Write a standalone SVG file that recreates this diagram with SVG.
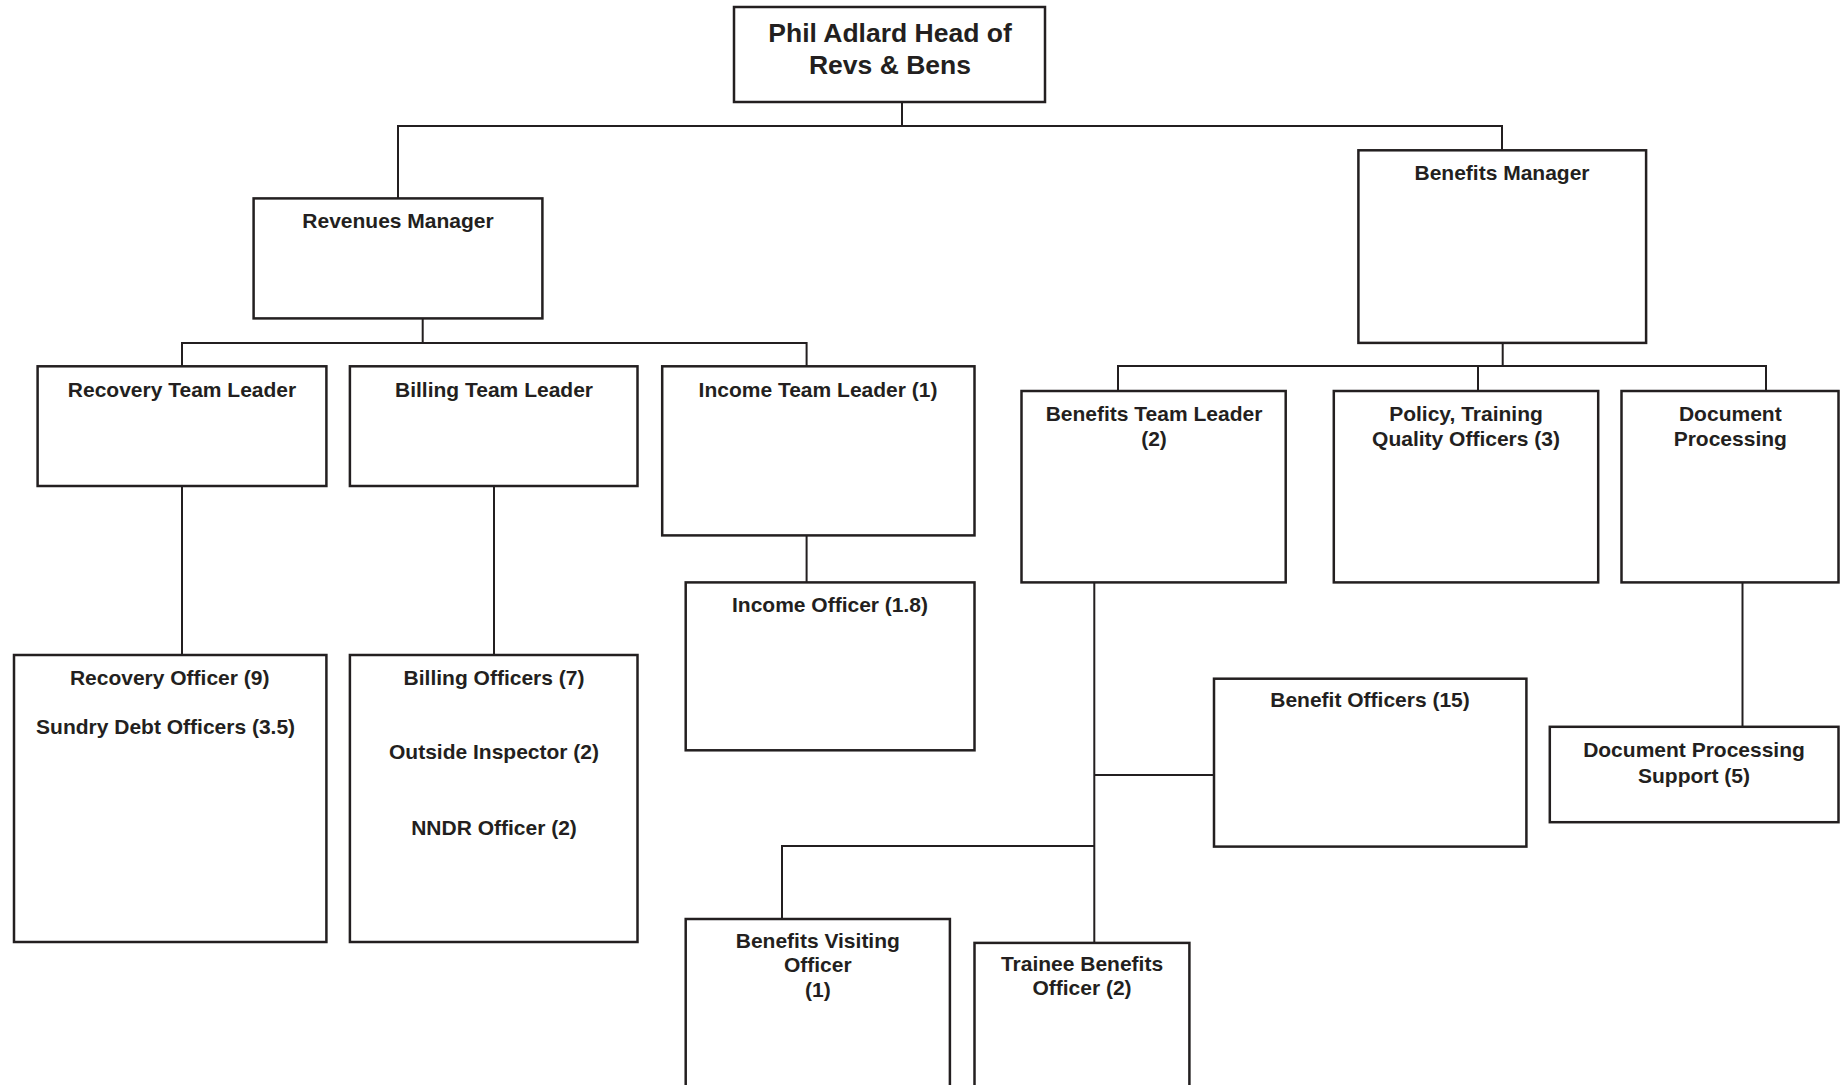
<svg xmlns="http://www.w3.org/2000/svg" width="1841" height="1085" viewBox="0 0 1841 1085">
<style>
.box{fill:#fff;stroke:#231f20;stroke-width:2.5}
.ln{fill:none;stroke:#231f20;stroke-width:2}
text{font-family:"Liberation Sans",Arial,sans-serif;font-weight:bold;font-size:21px;fill:#231f20;text-anchor:middle}
.big{font-size:26.5px}
</style>
<rect width="1841" height="1085" fill="#fff"/>
<g id="connectors">
<path class="ln" d="M902 102V126M398 198V126H1502V150"/>
<path class="ln" d="M422.7 318V343M182 366V343H806.6V366"/>
<path class="ln" d="M182 486V655M494 486V655M806.6 535V582"/>
<path class="ln" d="M1502.7 343V366M1118 391V366H1766V391M1478 366V391"/>
<path class="ln" d="M1094.3 582V943M1094.3 775H1214M1094.3 846H782V919"/>
<path class="ln" d="M1742.5 582V727"/>
</g>
<g id="head"><rect class="box" x="734" y="7" width="311" height="95"/><text class="big" x="890" y="42">Phil Adlard Head of</text><text class="big" x="890" y="74">Revs &amp; Bens</text></g>
<g id="revenues-manager"><rect class="box" x="253.6" y="198.4" width="288.8" height="120"/><text x="398" y="228">Revenues Manager</text></g>
<g id="benefits-manager"><rect class="box" x="1358.4" y="150.3" width="287.7" height="192.6"/><text x="1502" y="180">Benefits Manager</text></g>
<g id="recovery-team-leader"><rect class="box" x="37.6" y="366.3" width="288.8" height="119.7"/><text x="182" y="397">Recovery Team Leader</text></g>
<g id="billing-team-leader"><rect class="box" x="349.9" y="366.3" width="287.6" height="119.7"/><text x="494" y="397">Billing Team Leader</text></g>
<g id="income-team-leader"><rect class="box" x="662.2" y="366.3" width="312.3" height="169.1"/><text x="818" y="397">Income Team Leader (1)</text></g>
<g id="recovery-officer"><rect class="box" x="14" y="655" width="312.4" height="287"/><text x="169.7" y="685">Recovery Officer (9)</text><text x="165.6" y="734">Sundry Debt Officers (3.5)</text></g>
<g id="billing-officers"><rect class="box" x="349.9" y="655" width="287.6" height="287"/><text x="494" y="685">Billing Officers (7)</text><text x="494" y="759">Outside Inspector (2)</text><text x="494" y="835">NNDR Officer (2)</text></g>
<g id="income-officer"><rect class="box" x="685.7" y="582.4" width="288.8" height="167.9"/><text x="830" y="612">Income Officer (1.8)</text></g>
<g id="benefits-team-leader"><rect class="box" x="1021.5" y="391" width="264.2" height="191.4"/><text x="1154" y="421">Benefits Team Leader</text><text x="1154" y="446">(2)</text></g>
<g id="policy-training"><rect class="box" x="1333.8" y="391" width="264.4" height="191.4"/><text x="1466" y="421">Policy, Training</text><text x="1466" y="446">Quality Officers (3)</text></g>
<g id="document-processing"><rect class="box" x="1621.5" y="391" width="217" height="191.4"/><text x="1730.3" y="421">Document</text><text x="1730.3" y="446">Processing</text></g>
<g id="benefit-officers"><rect class="box" x="1214" y="678.7" width="312.4" height="167.9"/><text x="1370" y="707">Benefit Officers (15)</text></g>
<g id="document-processing-support"><rect class="box" x="1549.8" y="726.8" width="288.7" height="95.4"/><text x="1694" y="757">Document Processing</text><text x="1694" y="783">Support (5)</text></g>
<g id="benefits-visiting-officer"><rect class="box" x="685.7" y="919" width="264.2" height="175"/><text x="817.8" y="948">Benefits Visiting</text><text x="817.8" y="972">Officer</text><text x="817.8" y="997">(1)</text></g>
<g id="trainee-benefits-officer"><rect class="box" x="974.5" y="942.9" width="214.9" height="150"/><text x="1082" y="971">Trainee Benefits</text><text x="1082" y="995">Officer (2)</text></g>
</svg>
